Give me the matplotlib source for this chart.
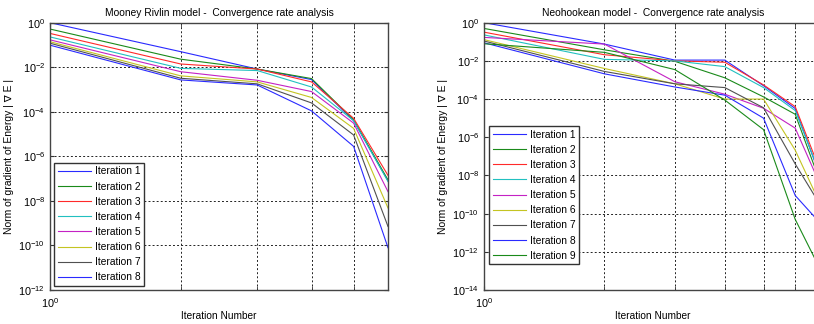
import matplotlib
matplotlib.use("Agg")
import matplotlib.pyplot as plt
from matplotlib.ticker import FixedLocator, NullFormatter, FixedFormatter

plt.rcParams['font.family'] = ['Liberation Sans', 'DejaVu Sans']
plt.rcParams['mathtext.default'] = 'regular'

# ---------------- data ----------------
iters_left = [1, 2, 3, 4, 5, 6]
mr_it1 = [1.0, 5.0e-2, 8.3e-3, 2.8e-3, 4.0e-5, 8.0e-8]
mr_it2 = [5.2e-1, 2.3e-2, 8.3e-3, 3.1e-3, 4.4e-5, 8.7e-8]
mr_it3 = [3.3e-1, 1.4e-2, 8.3e-3, 2.2e-3, 5.1e-5, 1.4e-7]
mr_it4 = [2.3e-1, 8.9e-3, 7.1e-3, 1.3e-3, 4.0e-5, 7.4e-8]
mr_it5 = [1.7e-1, 6.3e-3, 2.6e-3, 8.1e-4, 3.1e-5, 2.6e-8]
mr_it6 = [1.4e-1, 4.1e-3, 2.2e-3, 4.4e-4, 1.8e-5, 4.8e-9]
mr_it7 = [1.2e-1, 3.2e-3, 1.8e-3, 2.5e-4, 9.1e-6, 7.1e-10]
mr_it8 = [9.8e-2, 2.7e-3, 1.6e-3, 1.1e-4, 2.8e-6, 7.9e-11]
mr_series = [mr_it1, mr_it2, mr_it3, mr_it4, mr_it5, mr_it6, mr_it7, mr_it8]

iters_right = [1, 2, 3, 4, 5, 6, 7]
nh_it1 = [1.0, 7.6e-2, 1.1e-2, 1.1e-2, 5.0e-4, 3.2e-5, 5.0e-9]
nh_it2 = [5.0e-1, 3.8e-2, 9.5e-3, 1.3e-3, 1.3e-4, 1.6e-5, 2.5e-9]
nh_it3 = [3.2e-1, 2.1e-2, 1.0e-2, 8.5e-3, 5.5e-4, 4.0e-5, 1.0e-8]
nh_it4 = [2.3e-1, 1.2e-2, 1.0e-2, 5.0e-3, 4.0e-4, 2.5e-5, 6.3e-9]
nh_it5 = [1.7e-1, 7.6e-2, 8.1e-4, 1.8e-4, 3.3e-5, 3.0e-6, 2.0e-9]
nh_it6 = [1.3e-1, 4.0e-3, 6.3e-4, 1.0e-4, 1.0e-4, 2.1e-7, 2.0e-10]
nh_it7 = [1.1e-1, 2.8e-3, 6.3e-4, 4.0e-4, 3.5e-5, 4.0e-8, 2.0e-10]
nh_it8 = [8.9e-2, 2.1e-3, 4.3e-4, 1.6e-4, 1.0e-5, 8.9e-10, 2.5e-11]
nh_it9 = [7.9e-2, 2.8e-2, 3.5e-3, 8.9e-5, 2.5e-6, 5.0e-11, 7.9e-14]
nh_series = [nh_it1, nh_it2, nh_it3, nh_it4, nh_it5, nh_it6, nh_it7, nh_it8, nh_it9]

labels_left = ['Iteration %d' % i for i in range(1, 9)]
labels_right = ['Iteration %d' % i for i in range(1, 10)]

yticks_left = [1e-12, 1e-10, 1e-8, 1e-6, 1e-4, 1e-2, 1e0]
ytick_labels_left = ['$10^{-12}$', '$10^{-10}$', '$10^{-8}$', '$10^{-6}$', '$10^{-4}$', '$10^{-2}$', '$10^{0}$']
yticks_right = [1e-14, 1e-12, 1e-10, 1e-8, 1e-6, 1e-4, 1e-2, 1e0]
ytick_labels_right = ['$10^{-14}$', '$10^{-12}$', '$10^{-10}$', '$10^{-8}$', '$10^{-6}$', '$10^{-4}$', '$10^{-2}$', '$10^{0}$']

colors = ['#2a2aff', '#1a8a1a', '#ff2a2a', '#22c0c0', '#c422c4', '#c4c422', '#505050']

W, H = 814, 324
fig = plt.figure(figsize=(W / 100, H / 100), dpi=100)

def px_axes(x0, x1, ytop, ybot):
    return [x0 / W, (H - ybot) / H, (x1 - x0) / W, (ybot - ytop) / H]

def setup(ax, xmax, ymin, yticks, ylabels, title):
    ax.set_xscale('log')
    ax.set_yscale('log')
    ax.set_xlim(1, xmax)
    ax.set_ylim(ymin, 1)
    ax.xaxis.set_major_locator(FixedLocator([1]))
    ax.xaxis.set_major_formatter(FixedFormatter(['$10^{0}$']))
    ax.xaxis.set_minor_locator(FixedLocator(list(range(2, int(xmax) + 1))))
    ax.xaxis.set_minor_formatter(NullFormatter())
    ax.yaxis.set_major_locator(FixedLocator(yticks))
    ax.yaxis.set_major_formatter(FixedFormatter(ylabels))
    ax.yaxis.set_minor_locator(FixedLocator([]))
    ax.tick_params(which='both', direction='in', top=True, right=True, labelsize=7.8, length=3, color='#333333')
    ax.tick_params(axis='x', which='major', pad=4.5)
    gkw = dict(color='#222222', linestyle=(0, (2, 2.2)), linewidth=0.7)
    ax.grid(True, which='minor', axis='x', **gkw)
    ax.grid(True, which='major', axis='y', **gkw)
    for s in ax.spines.values():
        s.set_color('#444444')
        s.set_linewidth(1.0)
    ax.set_title(title, fontsize=7.4, pad=5)
    ax.set_xlabel('Iteration Number', fontsize=7.3, labelpad=0.5)
    ax.set_ylabel('Norm of gradient of Energy | \u2207 E |', fontsize=7.5, labelpad=3)

leg_kw = dict(loc='lower left', fontsize=7.4, fancybox=False, edgecolor='#333333',
              framealpha=1, handlelength=3.2, handletextpad=0.45,
              labelspacing=0.5, borderpad=0.35, borderaxespad=0)

ax1 = fig.add_axes(px_axes(50, 388, 22.7, 290))
for i, s in enumerate(mr_series):
    ax1.plot(iters_left, s, color=colors[i % 7], lw=0.8, label=labels_left[i])
setup(ax1, 6, 1e-12, yticks_left, ytick_labels_left, 'Mooney Rivlin model -  Convergence rate analysis')
ax1.legend(bbox_to_anchor=(0.012, 0.015), **leg_kw)

ax2 = fig.add_axes(px_axes(484, 822, 22.7, 290))
for i, s in enumerate(nh_series):
    ax2.plot(iters_right, s, color=colors[i % 7], lw=0.8, label=labels_right[i])
setup(ax2, 7, 1e-14, yticks_right, ytick_labels_right, 'Neohookean model -  Convergence rate analysis')
ax2.legend(bbox_to_anchor=(0.015, 0.096), **leg_kw)

fig.savefig('out.png', dpi=100)
